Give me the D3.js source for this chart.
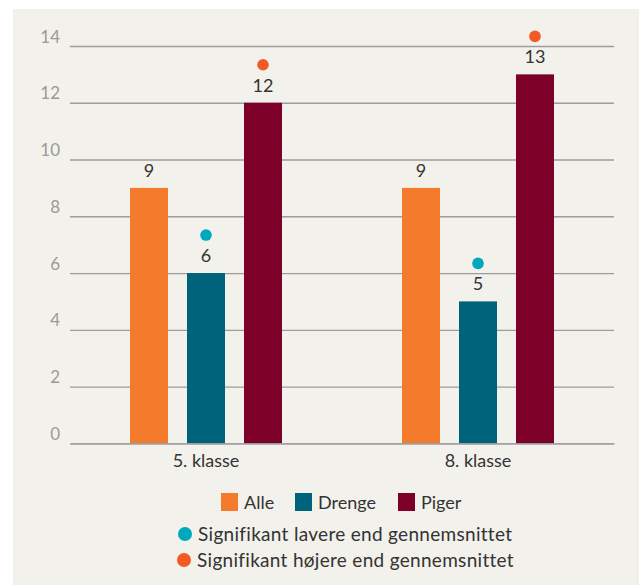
<!DOCTYPE html>
<html>
  <head>
    <meta charset="utf-8">
    <title>Klasse - søjlediagram</title>
    <style>
      body {
        margin: 0;
        padding: 0;
        overflow: hidden;
        background: #fff;
      }
      svg {
        display: block;
      }
      text {
        font-family: Lato, 'Open Sans', sans-serif;
      }
    </style>
    <script src="https://cdn.jsdelivr.net/npm/d3@7/dist/d3.min.js"></script>
  </head>
  <body>
    <svg></svg>
    <script>
      const width = 639;
      const height = 585;

      // Data
      const groups = ['5. klasse', '8. klasse'];
      const series = ['Alle', 'Drenge', 'Piger'];
      const values = {
        'Alle': [9, 9],
        'Drenge': [6, 5],
        'Piger': [12, 13]
      };
      // signifikans: 'low' = lavere, 'high' = højere, null = ingen
      const signif = {
        'Alle': [null, null],
        'Drenge': ['low', 'low'],
        'Piger': ['high', 'high']
      };
      const yTicks = [0, 2, 4, 6, 8, 10, 12, 14];
      const sigLegend = [
        { key: 'low', label: 'Signifikant lavere end gennemsnittet' },
        { key: 'high', label: 'Signifikant højere end gennemsnittet' }
      ];

      const colors = { 'Alle': '#F47B2C', 'Drenge': '#00637C', 'Piger': '#7C0028' };
      const dotColors = { low: '#00A8BD', high: '#F15A24' };

      const svg = d3.select('svg')
        .attr('width', width)
        .attr('height', height);

      // baggrundspanel
      svg.append('rect')
        .attr('x', 13)
        .attr('y', 9)
        .attr('width', width - 13)
        .attr('height', height - 9)
        .attr('fill', '#F2F1EB');

      const margin = { left: 70, right: 25, top: 46, bottom: 142 };
      const x0 = d3.scaleBand()
        .domain(groups)
        .range([margin.left, width - margin.right])
        .padding(0);

      const x1 = d3.scaleBand()
        .domain(series)
        .range([x0.bandwidth() / 2 - 76, x0.bandwidth() / 2 + 76])
        .paddingInner(1 / 3);

      const y = d3.scaleLinear()
        .domain([0, 14])
        .range([height - margin.bottom + 0.3, margin.top]);

      // gitterlinjer + y-akse
      const yAxis = svg.append('g')
        .attr('transform', `translate(${margin.left},0)`)
        .call(d3.axisLeft(y)
          .tickValues(yTicks)
          .tickSize(-(width - margin.left - margin.right))
          .tickPadding(10));
      yAxis.select('.domain').remove();
      yAxis.selectAll('.tick line')
        .attr('stroke', '#9d9d9d')
        .attr('stroke-width', 1.3);
      yAxis.selectAll('.tick text')
        .attr('fill', '#9a9a9a')
        .attr('font-size', 17)
        .attr('dy', -4)
        .style('font-family', 'Lato, sans-serif');

      // søjler
      const rows = [];
      groups.forEach((g, gi) => {
        series.forEach(s => {
          rows.push({ group: g, series: s, value: values[s][gi], sig: signif[s][gi] });
        });
      });

      const bars = svg.append('g')
        .selectAll('g')
        .data(rows)
        .join('g')
        .attr('transform', d => `translate(${x0(d.group) + x1(d.series)},0)`);

      bars.append('rect')
        .attr('x', 0)
        .attr('y', d => y(d.value))
        .attr('width', x1.bandwidth())
        .attr('height', d => y(0) - y(d.value))
        .attr('fill', d => colors[d.series]);

      bars.append('text')
        .attr('x', x1.bandwidth() / 2)
        .attr('y', d => y(d.value) - 11)
        .attr('text-anchor', 'middle')
        .attr('font-size', 18)
        .attr('fill', '#333')
        .text(d => d.value);

      bars.filter(d => d.sig)
        .append('circle')
        .attr('cx', x1.bandwidth() / 2)
        .attr('cy', d => y(d.value) - 38)
        .attr('r', 5.8)
        .attr('fill', d => dotColors[d.sig]);

      // x-akse
      const xAxis = svg.append('g')
        .attr('transform', `translate(0,${y(0)})`)
        .call(d3.axisBottom(x0).tickSize(0).tickPadding(11));
      xAxis.select('.domain')
        .attr('stroke', '#9d9d9d')
        .attr('stroke-width', 1.3);
      xAxis.selectAll('.tick text')
        .attr('fill', '#333')
        .attr('font-size', 18)
        .style('font-family', 'Lato, sans-serif');

      // forklaring - søjler
      const legendX = [221, 295, 398];
      const leg = svg.append('g')
        .selectAll('g')
        .data(series)
        .join('g')
        .attr('transform', (d, i) => `translate(${legendX[i]},493)`);
      leg.append('rect')
        .attr('width', 17)
        .attr('height', 18)
        .attr('fill', d => colors[d]);
      leg.append('text')
        .attr('x', 23)
        .attr('y', 16)
        .attr('font-size', 18)
        .attr('fill', '#333')
        .text(d => d);

      // forklaring - signifikans
      const sigLeg = svg.append('g')
        .selectAll('g')
        .data(sigLegend)
        .join('g')
        .attr('transform', (d, i) => `translate(${185 - i},${534 + i * 26})`);
      sigLeg.append('circle')
        .attr('r', 7)
        .attr('fill', d => dotColors[d.key]);
      sigLeg.append('text')
        .attr('x', 13)
        .attr('y', 7)
        .attr('font-size', 19)
        .attr('letter-spacing', 0.3)
        .attr('fill', '#333')
        .text(d => d.label);
    </script>
  </body>
</html>
